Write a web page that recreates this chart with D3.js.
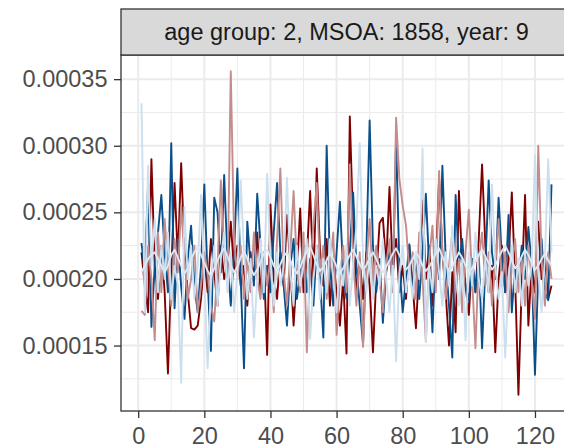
<!DOCTYPE html>
<html>
<head>
<meta charset="utf-8">
<script src="https://cdn.jsdelivr.net/npm/d3@7"></script>
<style>
  body { margin: 0; background: #ffffff; }
  svg { display: block; font-family: "Liberation Sans", Arial, sans-serif; }
</style>
</head>
<body>
<div id="chart"></div>
<script>
// values are in units of 1e-5
const unit = 1e-5
const stripLabel = 'age group: 2, MSOA: 1858, year: 9'
const xTicks = [0, 20, 40, 60, 80, 100, 120]
const yTicks = [0.00015, 0.00020, 0.00025, 0.00030, 0.00035]

const darkRed = [22.0, 19.5, 17.5, 29.0, 21.0, 18.5, 22.5, 19.0, 12.9, 20.5,
  27.2, 21.5, 28.7, 22.0, 19.0, 16.3, 16.2, 16.5, 18.5, 21.5,
  19.0, 23.0, 20.5, 18.0, 22.5, 20.0, 21.0, 24.3, 20.5, 22.5,
  19.5, 21.0, 18.0, 22.0, 20.0, 23.5, 19.0, 21.5, 14.3, 25.6,
  20.0, 18.5, 22.0, 19.5, 24.8, 21.0, 16.5, 20.5, 25.3, 19.0,
  21.5, 26.6, 20.0, 28.3, 22.0, 19.5, 23.0, 18.0, 21.5, 19.0,
  16.5, 20.0, 14.4, 32.2, 24.0, 19.0, 21.5, 18.5, 22.0, 19.5,
  14.5, 20.0, 24.2, 24.6, 21.0, 26.9, 20.5, 23.0, 19.0, 21.0,
  18.5, 22.5, 19.5, 16.3, 21.0, 25.9, 20.0, 22.5, 18.0, 21.0,
  27.5, 22.0, 19.0, 15.0, 20.5, 16.0, 26.6, 21.0, 19.5, 17.3,
  21.5, 19.0, 23.0, 28.6, 22.5, 19.0, 21.0, 14.5, 20.0, 22.5,
  19.0, 21.5, 26.5, 20.0, 11.3, 19.5, 26.3, 16.5, 21.0, 19.0,
  24.3, 20.0, 21.8, 18.5, 19.5]

const darkBlue = [22.7, 20.6, 27.1, 16.4, 21.0, 23.5, 26.3, 22.0, 19.0, 30.2,
  17.8, 23.0, 19.4, 17.0, 21.5, 24.0, 19.5, 17.5, 21.0, 27.1,
  20.0, 14.6, 26.1, 25.0, 20.5, 27.8, 21.5, 18.0, 22.0, 28.3,
  20.0, 13.3, 24.3, 21.0, 19.5, 26.4, 22.5, 18.5, 21.0, 19.0,
  23.5, 27.2, 22.0, 19.5, 16.5, 21.0, 23.0, 18.5, 20.5, 22.5,
  19.0, 21.5, 18.0, 22.5, 20.0, 15.6, 30.0, 21.0, 18.0, 22.0,
  25.8, 20.5, 18.5, 22.0, 26.5, 21.0, 18.0, 15.1, 22.0, 31.9,
  22.5, 19.0, 21.5, 16.7, 20.5, 22.0, 19.5, 30.5, 21.0, 17.5,
  20.0, 22.6, 19.0, 21.5, 18.5, 22.0, 26.4, 21.0, 16.0, 22.5,
  20.0, 28.5, 21.5, 18.0, 14.1, 26.3, 21.0, 23.0, 19.5, 18.4,
  21.5, 19.0, 22.0, 14.8, 21.0, 27.4, 22.0, 20.0, 26.1, 21.5,
  19.0, 24.8, 17.5, 21.0, 19.5, 22.5, 20.0, 23.9, 21.0, 12.8,
  20.5, 23.0, 19.0, 18.4, 27.1]

const rosy = [17.6, 17.3, 22.5, 20.0, 15.4, 23.5, 19.0, 24.5, 21.0, 18.0,
  23.0, 20.5, 25.5, 21.5, 18.5, 20.0, 22.5, 17.5, 19.5, 22.0,
  20.5, 18.0, 16.8, 21.0, 27.4, 22.0, 19.5, 35.6, 23.0, 20.0,
  22.5, 18.5, 21.5, 19.0, 23.5, 20.0, 18.5, 22.0, 19.5, 21.5,
  17.5, 23.0, 28.3, 20.5, 18.0, 22.0, 26.6, 21.0, 19.0, 23.5,
  14.5, 21.0, 24.0, 27.2, 20.5, 22.5, 18.5, 21.0, 23.5, 15.8,
  20.0, 22.5, 19.0, 28.6, 21.5, 18.0, 22.0, 14.9, 21.0, 24.5,
  19.5, 22.5, 20.0, 17.5, 21.0, 23.0, 19.0, 32.1, 27.5, 25.5,
  24.0, 20.5, 22.0, 18.5, 23.5, 20.0, 15.3, 21.5, 24.0, 19.0,
  28.1, 22.0, 18.5, 21.0, 23.5, 19.0, 21.5, 17.5, 22.0, 25.2,
  20.0, 14.8, 21.5, 23.5, 19.5, 22.0, 18.0, 21.0, 24.5, 19.5,
  22.0, 17.5, 21.0, 23.0, 19.0, 21.5, 18.0, 22.5, 20.0, 17.0,
  30.0, 21.5, 18.0, 22.0, 20.0]

const lightBlue = [33.2, 17.5, 28.5, 21.0, 24.5, 19.0, 22.5, 20.0, 23.5, 18.5,
  21.0, 19.5, 12.2, 25.4, 20.0, 22.5, 18.5, 21.0, 26.3, 20.0,
  13.3, 19.5, 22.5, 18.0, 21.5, 23.5, 19.0, 22.0, 17.5, 20.5,
  27.4, 22.0, 18.5, 21.5, 15.6, 20.0, 23.0, 19.0, 27.9, 21.5,
  18.0, 22.0, 19.5, 21.0, 27.6, 20.5, 18.0, 22.5, 19.5, 21.0,
  23.0, 15.5, 20.0, 22.5, 18.5, 21.5, 19.0, 23.0, 20.0, 17.5,
  21.0, 19.5, 22.5, 18.0, 21.0, 24.0, 30.2, 21.5, 19.0, 22.0,
  18.5, 21.0, 19.5, 23.0, 20.0, 17.5, 21.0, 13.8, 20.5, 22.5,
  19.0, 21.0, 18.5, 22.0, 20.0, 29.8, 15.3, 21.0, 19.0, 23.0,
  20.5, 18.0, 22.0, 19.5, 24.0, 20.5, 18.0, 21.5, 15.4, 22.0,
  19.5, 23.5, 20.0, 18.5, 21.5, 19.0, 27.1, 21.0, 18.5, 20.5,
  14.1, 20.0, 22.5, 19.0, 21.5, 18.0, 22.0, 19.5, 21.0, 29.3,
  20.5, 17.5, 21.5, 29.0, 22.0]

const paleBlue = [20.5, 21.0, 21.5, 21.8, 22.0, 21.5, 21.0, 20.5, 21.0, 21.8,
  22.2, 21.6, 21.0, 20.4, 20.8, 21.5, 22.0, 22.4, 21.8, 21.2,
  20.6, 20.2, 20.8, 21.4, 21.9, 22.3, 21.7, 21.0, 20.5, 20.9,
  21.6, 22.1, 21.5, 20.8, 20.3, 20.7, 21.3, 21.9, 22.2, 21.6,
  21.0, 20.6, 21.1, 21.7, 22.0, 21.4, 20.8, 20.4, 20.9, 21.5,
  22.1, 22.4, 21.8, 21.1, 20.6, 20.9, 21.4, 21.9, 21.5, 20.9,
  20.4, 20.8, 21.3, 21.8, 22.2, 21.7, 21.1, 20.7, 21.0, 21.6,
  22.0, 21.5, 20.9, 20.5, 20.9, 21.4, 21.9, 22.3, 21.8, 21.2,
  20.7, 21.0, 21.5, 22.0, 21.6, 21.0, 20.6, 20.9, 21.4, 21.9,
  22.3, 21.7, 21.1, 20.6, 20.9, 21.5, 22.0, 21.6, 21.0, 20.5,
  20.8, 21.3, 21.8, 22.2, 21.7, 21.2, 20.7, 21.0, 21.6, 22.1,
  22.5, 22.0, 21.4, 20.8, 21.1, 21.7, 22.2, 21.8, 21.2, 20.7,
  21.0, 21.5, 21.9, 21.4, 21.0]

const seriesList = [
  { name: 'darkRed', values: darkRed, color: '#7f0000' },
  { name: 'darkBlue', values: darkBlue, color: '#0b4f8a' },
  { name: 'rosy', values: rosy, color: '#c48c8c' },
  { name: 'lightBlue', values: lightBlue, color: '#cbdfee' },
  { name: 'paleBlue', values: paleBlue, color: '#dce9f3' }
]

const width = 564
const height = 448
const panel = { left: 121, right: 572, top: 55, bottom: 411 }
const stripTop = 9
const fontSize = 23.5

let svg = d3.select('#chart').append('svg')
  .attr('width', width)
  .attr('height', height)

// ggplot-like expanded domains
let allVals = seriesList.flatMap(s => s.values.map(v => v * unit))
let yExt = d3.extent(allVals)
let yPad = (yExt[1] - yExt[0]) * 0.05
let nPts = d3.max(seriesList, s => s.values.length)
let xPad = (nPts - 1) * 0.05

let x = d3.scaleLinear()
  .domain([1 - xPad, nPts + xPad])
  .range([panel.left, panel.right])
let y = d3.scaleLinear()
  .domain([yExt[0] - yPad, yExt[1] + yPad])
  .range([panel.bottom, panel.top])

// panel grid
let grid = svg.append('g')
let xMinor = d3.range(10, 140, 20)
let yMinor = d3.range(0.000125, 0.00037, 0.00005)
grid.selectAll('.xminor').data(xMinor).enter().append('line')
  .attr('x1', d => x(d)).attr('x2', d => x(d))
  .attr('y1', panel.top).attr('y2', panel.bottom)
  .attr('stroke', '#ebebeb').attr('stroke-width', 1)
grid.selectAll('.yminor').data(yMinor).enter().append('line')
  .attr('y1', d => y(d)).attr('y2', d => y(d))
  .attr('x1', panel.left).attr('x2', panel.right)
  .attr('stroke', '#ebebeb').attr('stroke-width', 1)
grid.selectAll('.xmajor').data(xTicks).enter().append('line')
  .attr('x1', d => x(d)).attr('x2', d => x(d))
  .attr('y1', panel.top).attr('y2', panel.bottom)
  .attr('stroke', '#ebebeb').attr('stroke-width', 2)
grid.selectAll('.ymajor').data(yTicks).enter().append('line')
  .attr('y1', d => y(d)).attr('y2', d => y(d))
  .attr('x1', panel.left).attr('x2', panel.right)
  .attr('stroke', '#ebebeb').attr('stroke-width', 2)

// lines
let line = d3.line()
  .x((d, i) => x(i + 1))
  .y(d => y(d * unit))

let plot = svg.append('g')
seriesList.forEach(s => {
  plot.append('path')
    .datum(s.values)
    .attr('d', line)
    .attr('fill', 'none')
    .attr('stroke', s.color)
    .attr('stroke-width', 1.9)
    .attr('stroke-linejoin', 'round')
})

// panel border
svg.append('rect')
  .attr('x', panel.left).attr('y', panel.top)
  .attr('width', panel.right - panel.left)
  .attr('height', panel.bottom - panel.top)
  .attr('fill', 'none').attr('stroke', '#333333').attr('stroke-width', 1.3)

// strip
svg.append('rect')
  .attr('x', panel.left).attr('y', stripTop)
  .attr('width', panel.right - panel.left)
  .attr('height', panel.top - stripTop)
  .attr('fill', '#d9d9d9').attr('stroke', '#333333').attr('stroke-width', 1.3)
svg.append('text')
  .attr('x', (panel.left + panel.right) / 2)
  .attr('y', (stripTop + panel.top) / 2)
  .attr('dy', '0.35em')
  .attr('text-anchor', 'middle')
  .attr('font-size', fontSize)
  .attr('fill', '#1a1a1a')
  .text(stripLabel)

// axes
let yAxis = d3.axisLeft(y)
  .tickValues(yTicks)
  .tickFormat(d3.format('.5f'))
  .tickSize(7)
  .tickPadding(6.5)
let xAxis = d3.axisBottom(x)
  .tickValues(xTicks)
  .tickSize(7)
  .tickPadding(9)

let gy = svg.append('g')
  .attr('transform', 'translate(' + panel.left + ',0)')
  .call(yAxis)
let gx = svg.append('g')
  .attr('transform', 'translate(0,' + panel.bottom + ')')
  .call(xAxis)

;[gx, gy].forEach(g => {
  g.select('.domain').remove()
  g.selectAll('.tick line').attr('stroke', '#333333').attr('stroke-width', 1.3)
  g.selectAll('.tick text')
    .attr('fill', '#4d4d4d')
    .attr('font-size', fontSize)
    .attr('font-family', '"Liberation Sans", Arial, sans-serif')
})
</script>
</body>
</html>
